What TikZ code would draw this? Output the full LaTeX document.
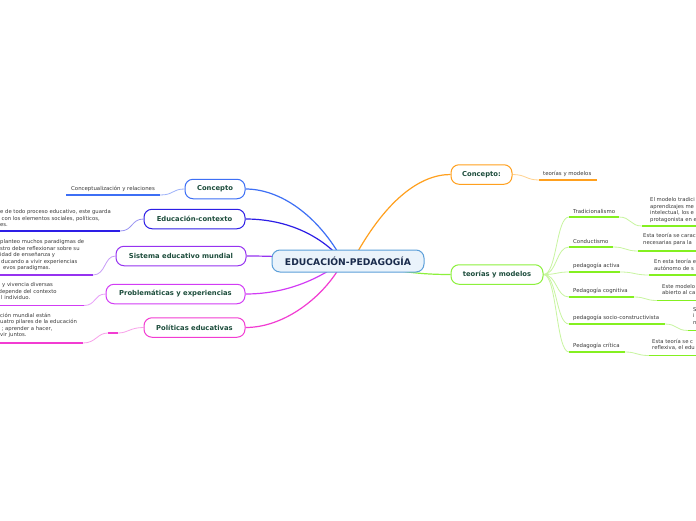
\documentclass[tikz,border=0pt]{standalone}
\usepackage{fontspec}
\setmainfont{DejaVu Sans}
\usetikzlibrary{backgrounds}
\definecolor{nodetext}{HTML}{1D4D3C}
\definecolor{leaftext}{HTML}{3A3A3A}
\definecolor{cBlue}{HTML}{3D6FF5}
\definecolor{cBlueL}{HTML}{9DB2FA}
\definecolor{cIndigo}{HTML}{2D1EE6}
\definecolor{cIndigoL}{HTML}{9A94F2}
\definecolor{cPurple}{HTML}{9633F0}
\definecolor{cPurpleL}{HTML}{C79CF7}
\definecolor{cViolet}{HTML}{D23CF5}
\definecolor{cVioletL}{HTML}{E8A0F9}
\definecolor{cMagenta}{HTML}{F23CD2}
\definecolor{cMagentaL}{HTML}{F8A2EA}
\definecolor{cOrange}{HTML}{FFA01E}
\definecolor{cOrangeL}{HTML}{FFD28F}
\definecolor{cGreen}{HTML}{8CF03C}
\definecolor{cGreenU}{HTML}{84F020}
\definecolor{cGreenL}{HTML}{C8F5A0}
\definecolor{centerfill}{HTML}{EAF3FB}
\definecolor{centerdraw}{HTML}{5C9FD9}
\definecolor{centertext}{HTML}{1A2B4C}
\begin{document}
\begin{tikzpicture}[x=1pt,y=-1pt,
  branch/.style={draw=#1, line width=1pt, rounded corners=8pt, fill=white,
    minimum height=19.5pt, inner xsep=3pt, inner ysep=0pt,
    font=\fontsize{6.8}{8}\selectfont\bfseries, text=nodetext},
  leaf/.style={font=\fontsize{5.4}{6.5}\selectfont, text=leaftext, inner sep=0pt, anchor=west},
  desc/.style={font=\fontsize{5.3}{6.5}\selectfont, text=leaftext, inner sep=0pt,
    anchor=north west, align=left},
  mainline/.style={line width=1.2pt},
  uline/.style={line width=1.8pt},
  thinline/.style={line width=0.8pt},
]
\useasboundingbox (0,0) rectangle (696,520);

% ---------- central node
\node[draw=centerdraw, fill=centerfill, line width=1pt, rounded corners=8pt,
  minimum width=152pt, minimum height=22pt, inner sep=0pt,
  font=\fontsize{9.2}{11}\selectfont\bfseries, text=centertext] (C) at (348,261) {EDUCACIÓN-PEDAGOGÍA};
\coordinate (CL) at (343,261);
\coordinate (CR) at (352,262);

% ---------- left branches
\node[branch=cBlue, minimum width=60pt] (L1) at (215,189) {Concepto};
\node[branch=cIndigo, minimum width=101pt] (L2) at (194.5,219) {Educación-contexto};
\node[branch=cPurple, minimum width=130pt] (L3) at (181,256) {Sistema educativo mundial};
\node[branch=cViolet, minimum width=139pt] (L4) at (175.5,294) {Problemáticas y experiencias};
\node[branch=cMagenta, minimum width=101pt] (L5) at (194.5,327.5) {Políticas educativas};

% ---------- right branches
\node[branch=cOrange, minimum width=61pt] (R1) at (481.5,174.5) {Concepto:};
\node[branch=cGreen, minimum width=92pt] (R2) at (497,274.5) {teorías y modelos};

% ---------- left leaves
\node[leaf] (l1) at (71,189) {Conceptualización y relaciones};
\coordinate (U1a) at (66,195); \coordinate (U1b) at (160,195);

\node[desc] (d2) at (0,209.5) {e de todo proceso educativo, este guarda\\
\hspace*{1.5pt}con los elementos sociales, políticos,\\
es.};
\coordinate (U2a) at (0,231); \coordinate (U2b) at (120,231);

\node[desc] (d3) at (0,239.5) {planteo muchos paradigmas de\\
stro debe reflexionar sobre su\\
idad de enseñanza y\\
\hspace*{1pt}ducando a vivir experiencias\\
\hspace*{3pt}evos paradigmas.};
\coordinate (U3a) at (0,275); \coordinate (U3b) at (93,275);

\node[desc] (d4) at (0,282.5) {\hspace*{2pt}y vivencia diversas\\
\hspace*{-1.5pt}depende del contexto\\
\hspace*{1pt}l individuo.};
\coordinate (U4a) at (0,305.5); \coordinate (U4b) at (84,305.5);

\node[desc] (d5) at (0,313) {ción mundial están\\
uatro pilares de la educación\\
\hspace*{1.5pt}; aprender a hacer,\\
vir juntos.};
\coordinate (U5a) at (0,343); \coordinate (U5b) at (83,343);
\coordinate (M5a) at (108,333); \coordinate (M5b) at (118,333);

% ---------- right leaves
\node[leaf] (r1) at (543,174) {teorías y modelos};
\coordinate (U6a) at (539,180); \coordinate (U6b) at (597,180);

\node[leaf] (t1) at (573,211) {Tradicionalismo};
\node[leaf] (t2) at (573,241) {Conductismo};
\node[leaf] (t3) at (573,266) {pedagogía activa};
\node[leaf] (t4) at (573,291) {Pedagogía cognitiva};
\node[leaf] (t5) at (573,318) {pedagogía socio-constructivista};
\node[leaf] (t6) at (573,346) {Pedagogía crítica};

\coordinate (T1a) at (569,217); \coordinate (T1b) at (619,217);
\coordinate (T2a) at (569,247); \coordinate (T2b) at (613,247);
\coordinate (T3a) at (569,272); \coordinate (T3b) at (620,272);
\coordinate (T4a) at (569,297); \coordinate (T4b) at (634,297);
\coordinate (T5a) at (569,324); \coordinate (T5b) at (665,324);
\coordinate (T6a) at (569,352); \coordinate (T6b) at (625,352);

\node[desc] (e1) at (650,197.5) {El modelo tradici\\aprendizajes me\\intelectual, los e\\protagonista en e};
\node[desc] (e2) at (643,233.5) {Esta teoría se carac\\necesarias para la};
\node[desc] (e3) at (654,259.5) {En esta teoría e\\autónomo de s};
\node[desc] (e4) at (662,284) {Este modelo\\abierto al ca};
\node[desc] (e5) at (693,307) {S\\i\\n};
\node[desc] (e6) at (652,339) {Esta teoría se c\\reflexiva, el edu};

\coordinate (D1a) at (642,226); \coordinate (D1b) at (696,226);
\coordinate (D2a) at (638,251); \coordinate (D2b) at (696,251);
\coordinate (D3a) at (649,275); \coordinate (D3b) at (696,275);
\coordinate (D4a) at (657,300.5); \coordinate (D4b) at (696,300.5);
\coordinate (D5a) at (688,330.5); \coordinate (D5b) at (696,330.5);
\coordinate (D6a) at (649,355.5); \coordinate (D6b) at (696,355.5);

% ---------- connectors (behind the nodes)
\begin{scope}[on background layer]
\fill[white] (0,0) rectangle (696,520);
\draw[mainline, cBlue] (CL) .. controls (318,215) and (280,189) .. (L1.east);
\draw[mainline, cIndigo] (CL) .. controls (318,232) and (282,219) .. (L2.east);
\draw[mainline, cPurple] (CL) .. controls (310,258) and (280,256) .. (L3.east);
\draw[mainline, cViolet] (CL) .. controls (315,282) and (282,294) .. (L4.east);
\draw[mainline, cMagenta] (CL) .. controls (328,292) and (288,327.5) .. (L5.east);
\draw[mainline, cOrange] (CR) .. controls (385,200) and (420,174.5) .. (R1.west);
\draw[mainline, cGreen] (CR) .. controls (400,272) and (420,274.5) .. (R2.west);

% left leaves
\draw[thinline, cBlueL] (L1.west) .. controls (172,189) and (174,195) .. (U1b);
\draw[uline, cBlue] (U1a) -- (U1b);
\draw[thinline, cIndigoL] (L2.west) .. controls (131,219) and (133,231) .. (U2b);
\draw[uline, cIndigo] (U2a) -- (U2b);
\draw[thinline, cPurpleL] (L3.west) .. controls (104,256) and (106,275) .. (U3b);
\draw[uline, cPurple] (U3a) -- (U3b);
\draw[thinline, cVioletL] (L4.west) .. controls (94,294) and (96,305.5) .. (U4b);
\draw[uline, cViolet] (U4a) -- (U4b);
\draw[thinline, cMagentaL] (L5.west) .. controls (130,327.5) and (128,333) .. (M5b);
\draw[uline, cMagenta] (M5a) -- (M5b);
\draw[thinline, cMagentaL] (M5a) .. controls (97,333) and (96,343) .. (U5b);
\draw[uline, cMagenta] (U5a) -- (U5b);

% right leaves
\draw[thinline, cOrangeL] (R1.east) .. controls (526,174.5) and (526,180) .. (U6a);
\draw[uline, cOrange] (U6a) -- (U6b);

\foreach \i/\y in {1/217,2/247,3/272,4/297,5/324,6/352}{
  \draw[thinline, cGreenL] (R2.east) .. controls (557,274.5) and (556,\y) .. (T\i a);
  \draw[uline, cGreenU] (T\i a) -- (T\i b);
}
\draw[thinline, cGreenL] (T1b) .. controls (631,217) and (630,226) .. (D1a);
\draw[thinline, cGreenL] (T2b) .. controls (626,247) and (625,251) .. (D2a);
\draw[thinline, cGreenL] (T3b) .. controls (635,272) and (634,275) .. (D3a);
\draw[thinline, cGreenL] (T4b) .. controls (646,297) and (645,300.5) .. (D4a);
\draw[thinline, cGreenL] (T5b) .. controls (677,324) and (676,330.5) .. (D5a);
\draw[thinline, cGreenL] (T6b) .. controls (637,352) and (636,355.5) .. (D6a);
\foreach \i in {1,...,6}{
  \draw[uline, cGreenU] (D\i a) -- (D\i b);
}
\end{scope}
\end{tikzpicture}
\end{document}
